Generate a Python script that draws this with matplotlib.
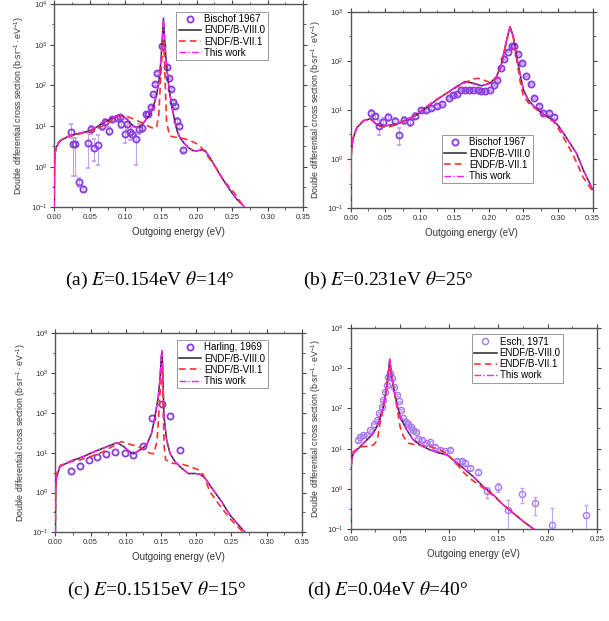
import matplotlib
matplotlib.use("Agg")
import matplotlib.pyplot as plt
from matplotlib.lines import Line2D
from matplotlib.ticker import FixedLocator, MultipleLocator, LogLocator, NullFormatter

plt.rcParams['font.family'] = ['Liberation Sans', 'DejaVu Sans']
plt.rcParams['mathtext.fontset'] = 'custom'
plt.rcParams['mathtext.rm'] = 'Liberation Sans'
plt.rcParams['mathtext.it'] = 'Liberation Sans:italic'

# ---------------- (a) E=0.154 eV, theta=14 deg ----------------
a_exp_x = [0.023, 0.0258, 0.0295, 0.0351, 0.0407, 0.0478, 0.0511, 0.0553, 0.0614, 0.0674,
           0.0707, 0.0764, 0.081, 0.0876, 0.0927, 0.094, 0.0988, 0.1017, 0.1063, 0.11,
           0.1147, 0.1185, 0.1227, 0.1283, 0.1325, 0.1358, 0.139, 0.1414, 0.1438, 0.1515,
           0.1592, 0.161, 0.1648, 0.1667, 0.1695, 0.1727, 0.176, 0.1811]
a_exp_y = [7.0, 3.6, 3.6, 0.42, 0.29, 3.75, 8.3, 2.9, 3.4, 10.2,
           12.7, 7.5, 14.5, 15.4, 17.0, 11.2, 6.3, 11.0, 7.0, 6.5,
           4.7, 8.3, 9.2, 19.5, 19.5, 29, 63, 107, 200, 950,
           290, 150, 80, 38, 31.5, 13.5, 10.0, 2.6]
a_exp_lo = [2.0, 3.0, 3.0, 0.1, 0.05, 2.8, 2.0, 1.5, 2.3, 2.0,
            2.0, 1.5, 2.0, 2.0, 2.0, 2.0, 2.5, 3.0, 2.5, 2.0,
            3.6, 2.0, 2.0, 3.0, 3.0, 3.0, 5, 8, 15, 50,
            20, 10, 6, 4, 3, 2, 1.5, 0.3]
a_exp_hi = [4.0, 1.5, 1.5, 0.1, 0.05, 3.0, 2.0, 2.0, 2.6, 2.0,
            2.0, 2.0, 2.0, 2.0, 2.0, 3.0, 4.0, 4.0, 4.0, 3.0,
            5.0, 3.0, 3.0, 3.0, 3.0, 3.0, 5, 8, 15, 50,
            20, 10, 6, 4, 3, 2, 1.5, 0.3]

a_viii_x = [0.0, 0.0005, 0.001, 0.003, 0.006, 0.01, 0.02, 0.03, 0.04, 0.05, 0.06, 0.07, 0.08,
            0.09, 0.095, 0.10, 0.105, 0.11, 0.115, 0.12, 0.125, 0.13, 0.135, 0.14, 0.144,
            0.147, 0.15, 0.152, 0.1535, 0.155, 0.157, 0.159, 0.1615, 0.165, 0.1685, 0.1727,
            0.1765, 0.181, 0.188, 0.195, 0.20, 0.207, 0.212, 0.2186, 0.225, 0.235, 0.245,
            0.255, 0.268, 0.275]
a_viii_y = [0.1, 1.2, 2.0, 3.0, 3.8, 4.5, 5.6, 6.3, 6.9, 7.6, 9.5, 12.5, 15.0,
            17.5, 17.8, 16.0, 13.0, 10.5, 9.3, 9.6, 11.5, 15.5, 20, 33, 60,
            120, 400, 1500, 4300, 1500, 450, 200, 80, 32, 16, 7.6,
            5.2, 4.1, 3.0, 2.5, 2.45, 2.6, 2.5, 1.7, 1.1, 0.55, 0.3,
            0.17, 0.1, 0.08]

a_vii_x = [0.0, 0.0005, 0.001, 0.003, 0.006, 0.01, 0.02, 0.03, 0.04, 0.05, 0.06, 0.07, 0.08,
           0.09, 0.10, 0.109, 0.117, 0.125, 0.134, 0.14, 0.144, 0.147, 0.15, 0.1525, 0.1535,
           0.155, 0.1565, 0.158, 0.1624, 0.17, 0.1765, 0.188, 0.195, 0.20, 0.205, 0.21,
           0.2233, 0.232, 0.24, 0.2514, 0.2654, 0.27]
a_vii_y = [0.1, 1.5, 2.3, 3.3, 4.0, 4.6, 5.5, 6.1, 6.7, 7.3, 8.5, 10.5, 13.5,
           17.0, 18.0, 15.5, 13.5, 11.8, 9.6, 8.7, 9.5, 20, 200, 1000, 1300,
           400, 60, 12, 5.7, 5.3, 5.2, 4.6, 4.1, 3.7, 3.2, 2.5,
           1.2, 0.7, 0.42, 0.25, 0.11, 0.09]

a_tw_x = [0.0, 0.0005, 0.001, 0.003, 0.006, 0.01, 0.02, 0.03, 0.04, 0.05, 0.06, 0.07, 0.08,
          0.09, 0.095, 0.10, 0.105, 0.11, 0.115, 0.12, 0.125, 0.13, 0.135, 0.14, 0.144,
          0.147, 0.15, 0.152, 0.1535, 0.155, 0.157, 0.159, 0.1615, 0.165, 0.1685, 0.1727,
          0.1765, 0.181, 0.188, 0.195, 0.20, 0.207, 0.212, 0.2186, 0.225, 0.235, 0.245,
          0.255, 0.268, 0.275]
a_tw_y = [0.1, 1.2, 2.0, 3.0, 3.9, 4.6, 5.7, 6.4, 7.0, 7.8, 9.7, 12.8, 15.3,
          17.8, 18.0, 16.0, 12.8, 10.3, 9.2, 9.6, 11.6, 15.8, 20.5, 34, 62,
          125, 420, 1600, 4600, 1600, 470, 205, 82, 33, 16.5, 7.8,
          5.3, 4.1, 3.0, 2.5, 2.45, 2.6, 2.5, 1.7, 1.1, 0.56, 0.31,
          0.17, 0.1, 0.08]

# ---------------- (b) E=0.231 eV, theta=25 deg ----------------
b_exp_x = [0.0289, 0.0352, 0.041, 0.0473, 0.0545, 0.0641, 0.0704, 0.0771, 0.0858, 0.0931,
           0.1017, 0.109, 0.1162, 0.1244, 0.1316, 0.1422, 0.1485, 0.1533, 0.1596, 0.1654,
           0.1712, 0.1774, 0.1837, 0.1885, 0.1943, 0.2015, 0.2078, 0.2112, 0.2175, 0.2223,
           0.228, 0.2329, 0.2367, 0.2425, 0.2483, 0.2536, 0.2608, 0.2657, 0.2724, 0.2787,
           0.2869, 0.2936]
b_exp_y = [8.6, 7.4, 4.6, 5.8, 7.1, 6.0, 3.1, 6.1, 5.8, 7.6,
           9.8, 9.8, 10.9, 11.8, 13.4, 17.5, 20.4, 21.4, 25.8, 25.8,
           25.8, 25.8, 25.8, 24.0, 24.0, 25.0, 32, 41, 70, 108,
           155, 200, 200, 138, 90, 48, 33, 17.5, 11.8, 8.6,
           8.6, 7.1]
b_exp_err = [1.5, 1.0, 1.5, 1.0, 1.2, 1.0, 1.2, 1.0, 1.0, 1.2,
             1.0, 0.8, 0.8, 0.8, 0.8, 1.0, 1.0, 1.0, 1.0, 1.0,
             1.0, 1.0, 1.0, 1.0, 1.0, 1.0, 1.5, 2.0, 3.0, 4.0,
             5.0, 6.0, 6.0, 5.0, 4.0, 2.0, 1.5, 1.0, 0.8, 0.6,
             0.6, 0.6]

b_viii_x = [0.0, 0.0005, 0.001, 0.003, 0.006, 0.0087, 0.0183, 0.0289, 0.0376, 0.0424, 0.052,
            0.0665, 0.081, 0.0955, 0.11, 0.1244, 0.1389, 0.1533, 0.1654, 0.1774, 0.1895,
            0.2015, 0.2112, 0.2184, 0.2257, 0.2305, 0.2353, 0.2401, 0.2449, 0.2498, 0.257,
            0.2642, 0.2739, 0.2835, 0.2932, 0.3004, 0.3076, 0.3173, 0.3269, 0.3365, 0.35]
b_viii_y = [0.1, 0.9, 1.5, 2.5, 3.4, 4.3, 6.0, 6.6, 5.0, 4.75, 4.75,
            5.2, 6.3, 8.0, 11.4, 16, 22, 30, 38, 35, 31,
            35, 48, 90, 270, 500, 315, 124, 56, 26, 16,
            12.2, 9.3, 7.4, 6.0, 4.8, 3.4, 2.1, 1.3, 0.6, 0.24]

b_vii_x = [0.0, 0.0005, 0.001, 0.003, 0.006, 0.0087, 0.0183, 0.0289, 0.0376, 0.045, 0.055,
           0.0665, 0.081, 0.0955, 0.11, 0.1244, 0.1389, 0.1533, 0.1654, 0.1774, 0.185,
           0.194, 0.2015, 0.2112, 0.2184, 0.2257, 0.2305, 0.2353, 0.2401, 0.2449, 0.2498,
           0.257, 0.2642, 0.2739, 0.2835, 0.2932, 0.3004, 0.3076, 0.3173, 0.3269, 0.3365, 0.35]
b_vii_y = [0.1, 1.0, 1.6, 2.6, 3.5, 4.4, 6.1, 6.4, 5.0, 4.5, 4.5,
           5.0, 6.2, 8.2, 11.8, 16.5, 22, 29, 36, 43, 44,
           40, 36, 44, 85, 260, 480, 290, 105, 40, 19,
           14, 11.5, 9.0, 7.2, 5.8, 4.2, 2.8, 1.6, 0.85, 0.42, 0.22]

b_tw_x = [0.0, 0.0005, 0.001, 0.003, 0.006, 0.0087, 0.0183, 0.0289, 0.0376, 0.0424, 0.052,
          0.0665, 0.081, 0.0955, 0.11, 0.1244, 0.1389, 0.1533, 0.1654, 0.1774, 0.1895,
          0.2015, 0.2112, 0.2184, 0.2257, 0.2305, 0.2353, 0.2401, 0.2449, 0.2498, 0.257,
          0.2642, 0.2739, 0.2835, 0.2932, 0.3004, 0.3076, 0.3173, 0.3269, 0.3365, 0.35]
b_tw_y = [0.1, 0.9, 1.5, 2.5, 3.4, 4.3, 6.0, 6.5, 5.0, 4.8, 4.8,
          5.2, 6.3, 8.1, 11.5, 16.2, 22, 30, 37, 34, 31,
          35, 47, 88, 265, 490, 310, 122, 55, 25, 15.5,
          12.0, 9.2, 7.3, 6.0, 4.8, 3.4, 2.1, 1.3, 0.6, 0.24]

# ---------------- (c) E=0.1515 eV, theta=15 deg ----------------
c_exp_x = [0.0218, 0.035, 0.0473, 0.0596, 0.0719, 0.0851, 0.0984, 0.1107, 0.1239, 0.1367,
           0.1509, 0.1627, 0.1769]
c_exp_y = [3.5, 4.7, 6.7, 7.7, 9.5, 10.6, 9.7, 8.8, 15.0, 73, 165, 84, 11.8]

c_viii_x = [0.0, 0.0005, 0.0019, 0.0066, 0.0208, 0.0397, 0.0587, 0.0728, 0.087, 0.0965,
            0.1045, 0.1107, 0.12, 0.1296, 0.1367, 0.1414, 0.1462, 0.1485, 0.1504, 0.1515,
            0.1523, 0.1542, 0.158, 0.1627, 0.1698, 0.1793, 0.1887, 0.1982, 0.2053, 0.2124,
            0.2242, 0.236, 0.2479, 0.2692, 0.275]
c_viii_y = [0.1, 1.3, 2.5, 4.5, 6.0, 8.0, 11.2, 14, 17.8, 14.5,
            11, 9.3, 11.8, 15.5, 31, 80, 257, 680, 2500, 3600,
            1500, 80, 21, 9.7, 6.0, 4.1, 3.0, 3.0, 2.9, 2.3,
            1.15, 0.59, 0.27, 0.1, 0.08]

c_vii_x = [0.0, 0.0005, 0.002, 0.007, 0.02, 0.035, 0.05, 0.065, 0.08, 0.094, 0.11, 0.125,
           0.134, 0.14, 0.1445, 0.148, 0.1505, 0.1515, 0.1525, 0.1545, 0.1566, 0.167, 0.179,
           0.191, 0.203, 0.21, 0.2195, 0.2313, 0.2479, 0.2644, 0.27]
c_vii_y = [0.1, 1.5, 3.0, 4.8, 5.8, 6.6, 8.0, 10.0, 14.0, 19, 15.5, 12.6,
           9.7, 9.5, 20, 200, 1300, 1500, 300, 14, 6.6, 5.4, 5.2,
           4.5, 3.7, 2.8, 1.04, 0.53, 0.22, 0.11, 0.085]

c_tw_x = [0.0, 0.0005, 0.0019, 0.0066, 0.0208, 0.0397, 0.0587, 0.0728, 0.087, 0.0965,
          0.1045, 0.1107, 0.12, 0.1296, 0.1367, 0.1414, 0.1462, 0.1485, 0.1504, 0.1515,
          0.1523, 0.1542, 0.158, 0.1627, 0.1698, 0.1793, 0.1887, 0.1982, 0.2053, 0.2124,
          0.2242, 0.236, 0.2479, 0.2692, 0.275]
c_tw_y = [0.1, 1.3, 2.5, 4.6, 6.1, 8.1, 11.4, 14.2, 18.0, 14.6,
          11, 9.2, 11.7, 15.6, 32, 82, 262, 700, 2700, 3900,
          1600, 82, 21, 9.7, 6.0, 4.1, 3.0, 3.0, 2.9, 2.3,
          1.15, 0.59, 0.27, 0.1, 0.08]

# ---------------- (d) E=0.04 eV, theta=40 deg ----------------
d_exp_x = [0.0071, 0.0095, 0.0122, 0.0163, 0.0196, 0.024, 0.0264, 0.0288, 0.0315, 0.0332,
           0.0349, 0.0366, 0.0383, 0.04, 0.0423, 0.0444, 0.0467, 0.0491, 0.0508, 0.0535,
           0.0562, 0.0586, 0.0613, 0.0637, 0.0661, 0.0688, 0.0722, 0.0766, 0.0806, 0.0857,
           0.0908, 0.0959, 0.1009, 0.1077, 0.1128, 0.1162, 0.1213, 0.1297, 0.1382, 0.1491,
           0.1602, 0.1738, 0.1873, 0.2043, 0.2388]
d_exp_y = [16.4, 20, 22, 22, 29, 42, 51, 75, 110, 162,
           260, 380, 610, 740, 550, 345, 215, 148, 91, 56,
           47, 42, 34, 29, 26, 17, 16.4, 13.5, 14.4, 11.2,
           9.3, 8.5, 9.3, 4.9, 4.9, 4.4, 3.3, 2.6, 0.87, 1.15,
           0.30, 0.76, 0.44, 0.13, 0.22]
d_exp_err = [1.5, 1.5, 1.5, 1.5, 2, 2, 3, 4, 5, 8,
             10, 15, 20, 25, 20, 15, 10, 8, 5, 3,
             3, 2, 2, 2, 2, 1.5, 1.5, 1.2, 1.2, 1.0,
             0.8, 0.8, 0.8, 0.5, 0.5, 0.5, 0.4, 0.4, 0.28, 0.29,
             0.24, 0.3, 0.21, 0.2, 0.17]

d_viii_x = [0.0, 0.0003, 0.001, 0.0027, 0.0095, 0.0163, 0.023, 0.0281, 0.0332, 0.0366, 0.0396,
            0.0417, 0.0451, 0.0501, 0.0569, 0.0637, 0.0705, 0.0806, 0.0908, 0.0976, 0.1043,
            0.1145, 0.1247, 0.1348, 0.145, 0.1551, 0.1653, 0.1755, 0.1873, 0.19]
d_viii_y = [0.1, 3.0, 5.5, 7.7, 11.2, 16.4, 24, 43, 110, 346, 1600,
            610, 195, 62, 29, 16.4, 12.3, 9.3, 7.7, 7.0, 5.2,
            3.25, 2.0, 1.14, 0.71, 0.4, 0.25, 0.155, 0.096, 0.09]

d_vii_x = [0.0, 0.0003, 0.001, 0.0027, 0.0095, 0.0163, 0.023, 0.027, 0.0298, 0.0332, 0.0366,
           0.0396, 0.0417, 0.0451, 0.0501, 0.0535, 0.0586, 0.067, 0.0806, 0.0908, 0.0976,
           0.1043, 0.1145, 0.1213, 0.1348, 0.145, 0.1551, 0.1653, 0.1755, 0.1873, 0.19]
d_vii_y = [0.1, 3.5, 6.0, 8.5, 11.0, 11.5, 12.3, 16, 43, 110, 340,
           1500, 600, 195, 35, 20, 13.6, 12.3, 11.2, 9.3, 7.5,
           5.2, 2.6, 1.8, 1.05, 0.68, 0.4, 0.25, 0.155, 0.096, 0.09]

d_tw_x = [0.0, 0.0003, 0.001, 0.0027, 0.0095, 0.0163, 0.023, 0.0281, 0.0332, 0.0366, 0.0396,
          0.0417, 0.0451, 0.0501, 0.0569, 0.0637, 0.0705, 0.0806, 0.0908, 0.0976, 0.1043,
          0.1145, 0.1247, 0.1348, 0.145, 0.1551, 0.1653, 0.1755, 0.1873, 0.19]
d_tw_y = [0.1, 3.0, 5.6, 7.8, 11.4, 16.6, 24.5, 44, 112, 350, 1700,
          620, 198, 63, 29, 16.5, 12.4, 9.3, 7.7, 7.0, 5.2,
          3.3, 2.0, 1.15, 0.71, 0.4, 0.25, 0.155, 0.096, 0.09]

captions = [r"(a) $E$=0.154eV $\theta$=14°", r"(b) $E$=0.231eV $\theta$=25°",
            r"(c) $E$=0.1515eV $\theta$=15°", r"(d) $E$=0.04eV $\theta$=40°"]

PURPLE = '#8a3ddf'
LIGHT = '#c4a3f2'
YLAB = r'Double differential cross section (b$\cdot$sr$^{-1}\cdot$eV$^{-1}$)'

fig = plt.figure(figsize=(6.09, 6.21), dpi=100)


def panel(rect, xmax, ymax, exp, curves, exp_label, leg_anchor, light=False):
    ax = fig.add_axes(rect)
    ex, ey, eerr = exp
    mec = '#a57af0' if light else PURPLE
    mew = 1.0 if light else 1.3
    ax.errorbar(ex, ey, yerr=eerr, fmt='o', mfc='none', mec=mec, mew=mew, ms=4.4,
                ecolor=LIGHT, elinewidth=0.8, capsize=1.5, capthick=0.7, zorder=3)
    (x1, y1), (x2, y2), (x3, y3) = curves
    ax.plot(x1, y1, color='#262626', lw=1.1, zorder=4)
    ax.plot(x2, y2, color='#ff3030', lw=1.2, ls=(0, (4, 2.5)), zorder=5)
    ax.plot(x3, y3, color='#ff1cff', lw=1.0, ls=(0, (5, 1.5, 1, 1.5)), zorder=6)
    handles = [
        Line2D([], [], ls='none', marker='o', mfc='none', mec=mec, mew=mew, ms=4.4),
        Line2D([], [], color='#262626', lw=1.1),
        Line2D([], [], color='#ff3030', lw=1.2, ls=(0, (4, 2.5))),
        Line2D([], [], color='#ff1cff', lw=1.0, ls=(0, (5, 1.5, 1, 1.5))),
    ]
    labels = [exp_label, 'ENDF/B-VIII.0', 'ENDF/B-VII.1', 'This work']
    ax.set_yscale('log')
    ax.set_xlim(0, xmax)
    ax.set_ylim(0.1, ymax)
    ax.xaxis.set_major_locator(MultipleLocator(0.05))
    ax.xaxis.set_minor_locator(MultipleLocator(0.025))
    ax.xaxis.set_major_formatter(matplotlib.ticker.FormatStrFormatter('%.2f'))
    ax.yaxis.set_major_locator(LogLocator(base=10, numticks=10))
    mins = [10 ** (k + 0.5) for k in range(-1, 4)]
    ax.yaxis.set_minor_locator(FixedLocator(mins))
    ax.yaxis.set_minor_formatter(NullFormatter())
    ax.tick_params(which='both', direction='out', top=True, right=True,
                   labelsize=5.6, colors='#444444', labelcolor='#333333', pad=2)
    ax.tick_params(which='major', length=3, width=0.8)
    ax.tick_params(which='minor', length=1.8, width=0.6)
    for s in ax.spines.values():
        s.set_color('#555555')
        s.set_linewidth(1.0)
    ax.set_xlabel('Outgoing energy (eV)', fontsize=7, color='#333333', labelpad=4)
    ax.set_ylabel(YLAB, fontsize=6.3, color='#333333', labelpad=3)
    leg = ax.legend(handles, labels, loc='upper left', bbox_to_anchor=leg_anchor, fontsize=7,
                    handlelength=2.3, handletextpad=0.3, labelspacing=0.12, borderpad=0.25,
                    fancybox=False, framealpha=1, edgecolor='#999999', borderaxespad=0)
    leg.get_frame().set_linewidth(0.7)
    return ax


panel([0.089, 0.666, 0.409, 0.3275], 0.35, 1e4,
      (a_exp_x, a_exp_y, [a_exp_lo, a_exp_hi]),
      [(a_viii_x, a_viii_y), (a_vii_x, a_vii_y), (a_tw_x, a_tw_y)],
      'Bischof 1967', (0.491, 0.962))
panel([0.576, 0.665, 0.397, 0.316], 0.35, 1e3,
      (b_exp_x, b_exp_y, b_exp_err),
      [(b_viii_x, b_viii_y), (b_vii_x, b_vii_y), (b_tw_x, b_tw_y)],
      'Bischof 1967', (0.376, 0.372))
panel([0.0908, 0.1428, 0.405, 0.3205], 0.35, 1e4,
      (c_exp_x, c_exp_y, None),
      [(c_viii_x, c_viii_y), (c_vii_x, c_vii_y), (c_tw_x, c_tw_y)],
      'Harling, 1969', (0.492, 0.966))
panel([0.576, 0.1477, 0.404, 0.3246], 0.25, 1e4,
      (d_exp_x, d_exp_y, d_exp_err),
      [(d_viii_x, d_viii_y), (d_vii_x, d_vii_y), (d_tw_x, d_tw_y)],
      'Esch, 1971', (0.492, 0.967), light=True)

cap_pos = [(0.246, 0.549), (0.637, 0.549), (0.258, 0.050), (0.637, 0.050)]
for (cx, cy), txt in zip(cap_pos, captions):
    fig.text(cx, cy, txt, ha='center', va='center', fontsize=14,
             family='Liberation Serif', math_fontfamily='stix')

fig.savefig('out.png', dpi=100, facecolor='white')
